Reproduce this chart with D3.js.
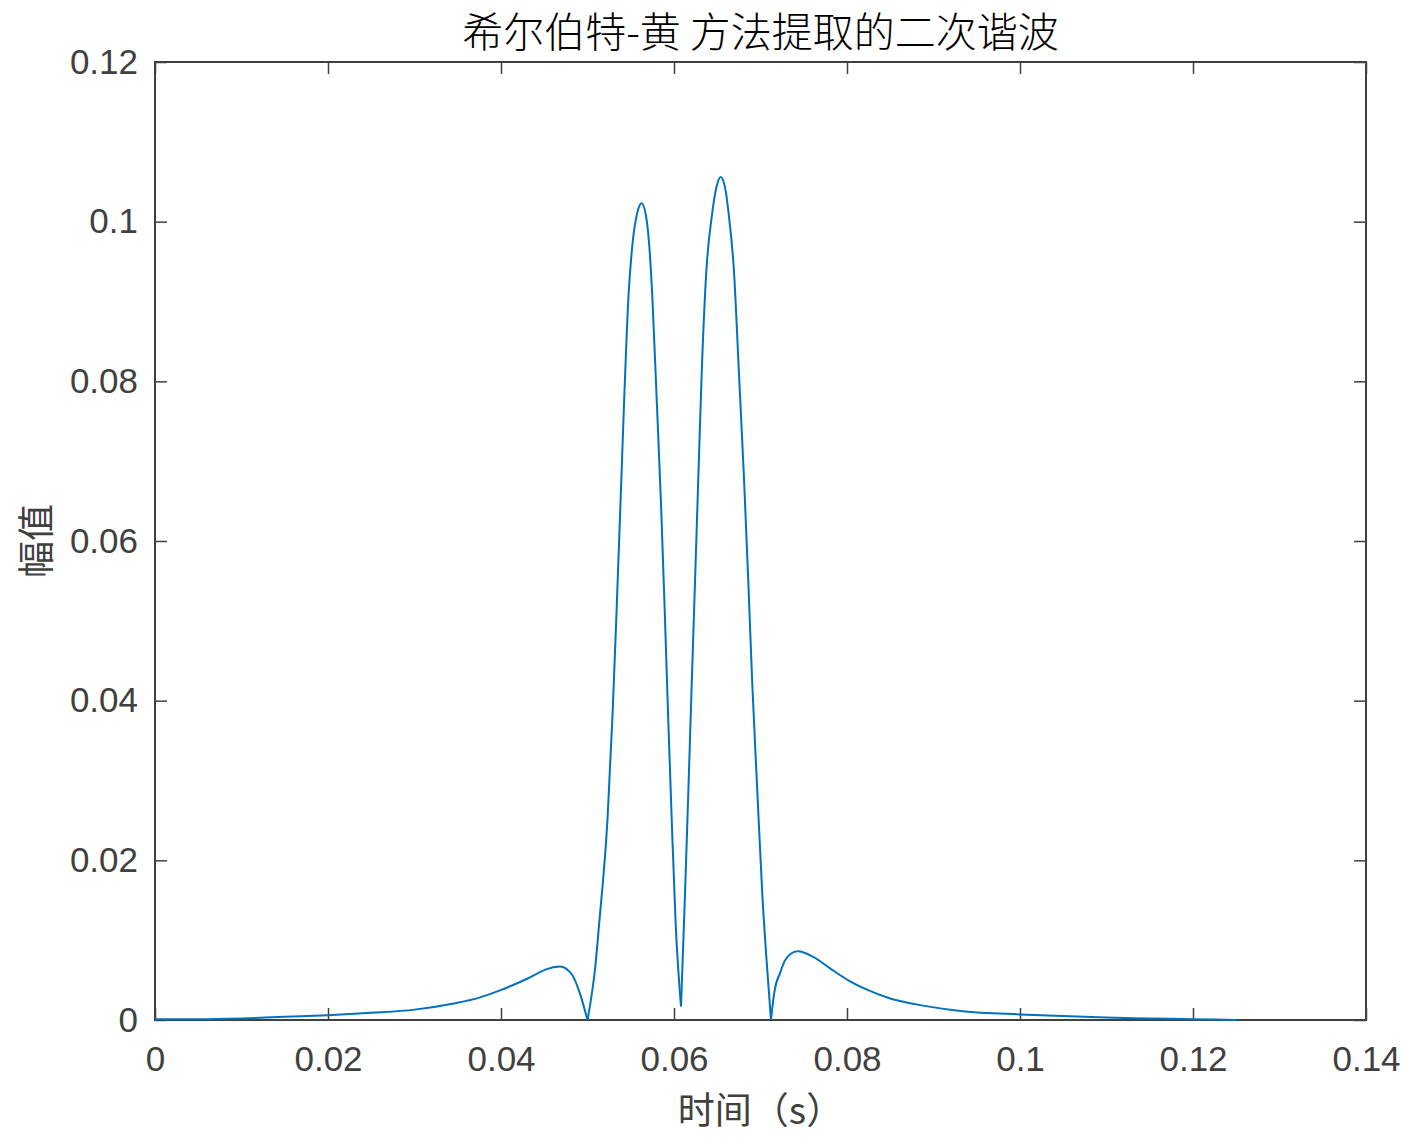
<!DOCTYPE html>
<html>
<head>
<meta charset="utf-8">
<script src="https://cdn.jsdelivr.net/npm/d3@7"></script>
<style>
  body { margin: 0; background: #fff; }
  text { font-family: "Liberation Sans", Arial, sans-serif; }
</style>
</head>
<body>
<div id="chart-area"></div>
<script>
// values
const times = [
  0.000, 0.005, 0.010, 0.015, 0.020, 0.025, 0.030, 0.0347, 0.0375, 0.0401,
  0.0431, 0.0454, 0.0468, 0.0482, 0.0491, 0.0500,
  0.0509, 0.05135, 0.05232, 0.05290, 0.05337, 0.05381, 0.05424, 0.05475, 0.05522, 0.05575, 0.05626,
  0.05675, 0.05711, 0.05748, 0.0580, 0.0585, 0.05892, 0.05931, 0.05973, 0.06019, 0.06081,
  0.06127, 0.06166, 0.06204, 0.06243, 0.06281, 0.0632, 0.06375, 0.06436, 0.06490, 0.0654,
  0.06590, 0.06636, 0.06692, 0.06751, 0.06809, 0.06859, 0.06906, 0.06963, 0.07021, 0.0707, 0.07121,
  0.0716, 0.0723, 0.0728, 0.0735, 0.0743, 0.0761, 0.0780, 0.0801, 0.0823, 0.0850,
  0.0888, 0.0934, 0.1000, 0.1050, 0.1100, 0.1150, 0.1200, 0.1250
]
const amplitude = [
  0.0001, 0.0001, 0.0002, 0.0004, 0.0006, 0.0009, 0.0013, 0.0021, 0.0028, 0.0038,
  0.0052, 0.0064, 0.0067, 0.0057, 0.0034, 0.0000,
  0.0067, 0.0121, 0.0253, 0.0384, 0.0515, 0.0646, 0.0777, 0.0909, 0.0974, 0.1011, 0.1023,
  0.1008, 0.0974, 0.0909, 0.0777, 0.0646, 0.0515, 0.0384, 0.0253, 0.0121, 0.0017,
  0.0157, 0.0287, 0.0418, 0.0549, 0.0679, 0.0810, 0.0940, 0.1006, 0.1043, 0.1056,
  0.1043, 0.1006, 0.0940, 0.0810, 0.0679, 0.0549, 0.0418, 0.0287, 0.0157, 0.0075, 0.0000,
  0.0035, 0.0060, 0.0074, 0.0083, 0.0086, 0.0079, 0.0065, 0.0050, 0.0038, 0.0027,
  0.0018, 0.0011, 0.0007, 0.0005, 0.0003, 0.0002, 0.0001, 0.0000
]
// sharp dips where the curve is split into pieces
const cuspTimes = [0.0500, 0.06081, 0.07121]
const xTicks = [0, 0.02, 0.04, 0.06, 0.08, 0.1, 0.12, 0.14]
const yTicks = [0, 0.02, 0.04, 0.06, 0.08, 0.1, 0.12]
const titleText = "希尔伯特-黄 方法提取的二次谐波"
const xLabel = "时间（s）"
const yLabel = "幅值"

const MARGIN = {LEFT: 155, RIGHT: 49, TOP: 62, BOTTOM: 128}
const WIDTH = 1415 - MARGIN.LEFT - MARGIN.RIGHT
const HEIGHT = 1148 - MARGIN.TOP - MARGIN.BOTTOM
const AXIS_COLOR = "#404040"
const TICK = 12

const svg = d3.select("#chart-area").append("svg")
  .attr("width", 1415)
  .attr("height", 1148)
const g = svg.append("g")
  .attr("transform", `translate(${MARGIN.LEFT}, ${MARGIN.TOP})`)

const x = d3.scaleLinear().domain([0, 0.14]).range([0, WIDTH])
const y = d3.scaleLinear().domain([0, 0.12]).range([HEIGHT, 0])

const fmt = d => d3.format("~g")(d)

// bottom / left axes with labels, ticks pointing inward
const xAxis = g.append("g")
  .attr("transform", `translate(0, ${HEIGHT})`)
  .call(d3.axisBottom(x).tickValues(xTicks).tickFormat(fmt).tickSizeInner(-TICK).tickSizeOuter(0).tickPadding(26))
const yAxis = g.append("g")
  .call(d3.axisLeft(y).tickValues(yTicks).tickFormat(fmt).tickSizeInner(-TICK).tickSizeOuter(0).tickPadding(17))
// top / right ticks only
const xTop = g.append("g")
  .call(d3.axisTop(x).tickValues(xTicks).tickFormat("").tickSizeInner(-TICK).tickSizeOuter(0))
const yRight = g.append("g")
  .attr("transform", `translate(${WIDTH}, 0)`)
  .call(d3.axisRight(y).tickValues(yTicks).tickFormat("").tickSizeInner(-TICK).tickSizeOuter(0))

;[xAxis, yAxis, xTop, yRight].forEach(a => {
  a.select(".domain").remove()
  a.selectAll("line").attr("stroke", AXIS_COLOR).attr("stroke-width", 1.5)
  a.selectAll("text").attr("fill", AXIS_COLOR).attr("font-size", "35px")
    .attr("font-family", "'Liberation Sans', Arial, sans-serif")
})

// box
g.append("rect")
  .attr("x", 0).attr("y", 0)
  .attr("width", WIDTH).attr("height", HEIGHT)
  .attr("fill", "none")
  .attr("stroke", AXIS_COLOR)
  .attr("stroke-width", 2)

// curve, drawn piece by piece so the dips stay sharp
const points = times.map((t, i) => ({t: t, v: amplitude[i]}))
const bounds = [0, ...cuspTimes, 1]
const pieces = []
for (let k = 0; k < bounds.length - 1; k++) {
  pieces.push(points.filter(p => p.t >= bounds[k] && p.t <= bounds[k + 1]))
}
const line = d3.line()
  .x(d => x(d.t))
  .y(d => y(d.v))
  .curve(d3.curveMonotoneX)

g.selectAll(".piece")
  .data(pieces)
  .enter().append("path")
  .attr("class", "piece")
  .attr("d", line)
  .attr("fill", "none")
  .attr("stroke", "#0072BD")
  .attr("stroke-width", 2)

// title
svg.append("text")
  .attr("x", MARGIN.LEFT + WIDTH / 2)
  .attr("y", 47)
  .attr("text-anchor", "middle")
  .attr("font-size", "41px")
  .attr("fill", "#000")
  .style("font-family", "'Noto Sans CJK SC', sans-serif")
  .style("font-weight", 300)
  .text(titleText)

// X label
svg.append("text")
  .attr("x", MARGIN.LEFT + WIDTH / 2)
  .attr("y", 1124)
  .attr("text-anchor", "middle")
  .attr("font-size", "37px")
  .attr("fill", AXIS_COLOR)
  .style("font-family", "'Noto Sans CJK SC', sans-serif")
  .text(xLabel)

// Y label
svg.append("text")
  .attr("transform", `translate(50, ${MARGIN.TOP + HEIGHT / 2}) rotate(-90)`)
  .attr("text-anchor", "middle")
  .attr("font-size", "37px")
  .attr("fill", AXIS_COLOR)
  .style("font-family", "'Noto Sans CJK SC', sans-serif")
  .text(yLabel)
</script>
</body>
</html>
